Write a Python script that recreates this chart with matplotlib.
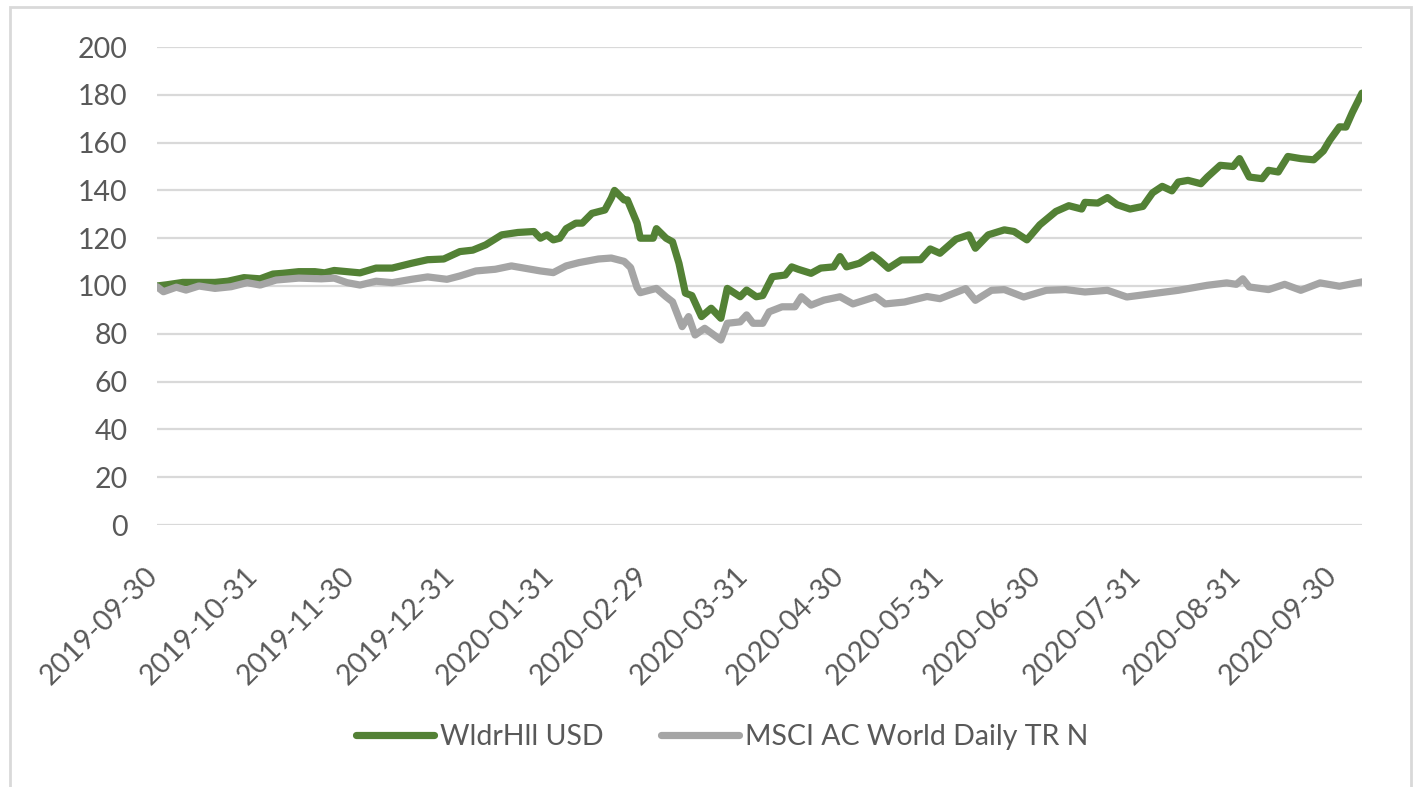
import pandas as pd
import matplotlib
matplotlib.use("Agg")
import matplotlib.pyplot as plt
from matplotlib.patches import Rectangle
from matplotlib.transforms import ScaledTranslation

plt.rcParams['font.family'] = ['Lato', 'DejaVu Sans']

# WldrHll USD
green_dates = ['2019-09-30', '2019-10-03', '2019-10-08', '2019-10-13', '2019-10-18', '2019-10-22',
               '2019-10-27', '2019-11-01', '2019-11-05', '2019-11-08', '2019-11-13', '2019-11-18',
               '2019-11-21', '2019-11-24', '2019-11-28', '2019-12-02', '2019-12-07', '2019-12-12',
               '2019-12-18', '2019-12-23', '2019-12-28', '2020-01-02', '2020-01-06', '2020-01-10',
               '2020-01-15', '2020-01-20', '2020-01-25', '2020-01-27', '2020-01-29', '2020-01-31',
               '2020-02-02', '2020-02-04', '2020-02-07', '2020-02-09', '2020-02-12', '2020-02-16',
               '2020-02-18', '2020-02-19', '2020-02-22', '2020-02-23', '2020-02-26', '2020-02-27',
               '2020-03-02', '2020-03-03', '2020-03-06', '2020-03-08', '2020-03-10', '2020-03-12',
               '2020-03-14', '2020-03-17', '2020-03-20', '2020-03-23', '2020-03-25', '2020-03-29',
               '2020-03-31', '2020-04-03', '2020-04-05', '2020-04-08', '2020-04-12', '2020-04-14',
               '2020-04-16', '2020-04-20', '2020-04-23', '2020-04-27', '2020-04-29', '2020-05-01',
               '2020-05-05', '2020-05-09', '2020-05-11', '2020-05-14', '2020-05-18', '2020-05-24',
               '2020-05-27', '2020-05-30', '2020-06-04', '2020-06-08', '2020-06-10', '2020-06-14',
               '2020-06-19', '2020-06-22', '2020-06-26', '2020-06-30', '2020-07-05', '2020-07-09',
               '2020-07-13', '2020-07-14', '2020-07-18', '2020-07-21', '2020-07-24', '2020-07-28',
               '2020-08-01', '2020-08-04', '2020-08-07', '2020-08-10', '2020-08-12', '2020-08-15',
               '2020-08-19', '2020-08-21', '2020-08-25', '2020-08-29', '2020-08-31', '2020-09-03',
               '2020-09-07', '2020-09-09', '2020-09-12', '2020-09-15', '2020-09-19', '2020-09-23',
               '2020-09-26', '2020-09-28', '2020-10-01', '2020-10-03', '2020-10-05', '2020-10-08']
green_vals = [100, 100.5, 101.5, 101.5, 101.5, 102,
              103.5, 103, 105, 105.3, 106, 106,
              105.5, 106.5, 106, 105.5, 107.5, 107.5,
              109.5, 111, 111.3, 114.4, 115, 117.2,
              121.4, 122.4, 122.8, 120, 121.4, 119.3,
              120, 124, 126.3, 126.3, 130.4, 131.8,
              136.8, 140, 136, 136, 126.3, 120,
              120, 124, 120, 118.5, 109.5, 97,
              96, 87.2, 90.7, 86.5, 99, 95.5,
              98.3, 95.5, 96, 103.9, 104.6, 108,
              107, 105.3, 107.5, 108, 112.3, 108,
              109.5, 113, 111, 107.4, 110.9, 111,
              115.5, 113.7, 119.6, 121.4, 115.8, 121.4,
              123.5, 122.8, 119.3, 125.6, 131.2, 133.6,
              132.2, 135, 134.7, 137, 134, 132.2,
              133.3, 139, 141.7, 139.8, 143.5, 144.2,
              142.8, 145.6, 150.5, 150, 153.3, 145.6,
              144.9, 148.4, 147.7, 154.2, 153.3, 152.8,
              156.5, 161, 166.6, 166.5, 172.6, 180.7]

# MSCI AC World Daily TR N
gray_dates = ['2019-09-30', '2019-10-02', '2019-10-06', '2019-10-09', '2019-10-13', '2019-10-18',
              '2019-10-23', '2019-10-28', '2019-11-01', '2019-11-06', '2019-11-13', '2019-11-20',
              '2019-11-24', '2019-11-28', '2019-12-02', '2019-12-07', '2019-12-12', '2019-12-18',
              '2019-12-23', '2019-12-29', '2020-01-02', '2020-01-07', '2020-01-13', '2020-01-18',
              '2020-01-21', '2020-01-27', '2020-01-31', '2020-02-04', '2020-02-08', '2020-02-14',
              '2020-02-18', '2020-02-22', '2020-02-24', '2020-02-26', '2020-02-27', '2020-03-03',
              '2020-03-06', '2020-03-08', '2020-03-11', '2020-03-13', '2020-03-15', '2020-03-18',
              '2020-03-23', '2020-03-25', '2020-03-29', '2020-03-31', '2020-04-02', '2020-04-05',
              '2020-04-07', '2020-04-11', '2020-04-15', '2020-04-17', '2020-04-20', '2020-04-24',
              '2020-04-29', '2020-05-03', '2020-05-10', '2020-05-13', '2020-05-19', '2020-05-26',
              '2020-05-30', '2020-06-07', '2020-06-10', '2020-06-15', '2020-06-19', '2020-06-25',
              '2020-07-02', '2020-07-08', '2020-07-14', '2020-07-21', '2020-07-27', '2020-08-04',
              '2020-08-12', '2020-08-21', '2020-08-27', '2020-08-30', '2020-09-01', '2020-09-03',
              '2020-09-09', '2020-09-14', '2020-09-19', '2020-09-25', '2020-10-01', '2020-10-08']
gray_vals = [99.7, 97.6, 99.5, 98.3, 100, 99,
             99.7, 101.4, 100.4, 102.5, 103.3, 103,
             103.3, 101.4, 100.4, 102, 101.4, 102.8,
             103.8, 102.8, 104.2, 106.3, 107, 108.4,
             107.7, 106.3, 105.6, 108.4, 109.8, 111.3,
             111.7, 110.3, 107.7, 99.3, 97.2, 99,
             95.5, 93.4, 83, 87.2, 79.5, 82.3,
             77.4, 84.4, 85, 87.9, 84.4, 84.4,
             89.2, 91.3, 91.3, 95.5, 92, 94.1,
             95.5, 92.5, 95.5, 92.5, 93.3, 95.6,
             94.7, 98.9, 94, 98.2, 98.5, 95.4,
             98.2, 98.5, 97.5, 98.2, 95.4, 96.8,
             98.2, 100.3, 101.3, 100.7, 103, 99.6,
             98.5, 100.7, 98.2, 101.3, 99.9, 101.7]

tick_dates = ['2019-09-30', '2019-10-31', '2019-11-30', '2019-12-31', '2020-01-31', '2020-02-29',
              '2020-03-31', '2020-04-30', '2020-05-31', '2020-06-30', '2020-07-31', '2020-08-31',
              '2020-09-30']
y_ticks = [0, 20, 40, 60, 80, 100, 120, 140, 160, 180, 200]

text_col = '#595959'
grid_col = '#d9d9d9'

fig = plt.figure(figsize=(14.18, 7.87), dpi=100)
W, H = 1418, 787

# chart-area frame
fig.patches.append(Rectangle((10 / W, -0.05), 1401 / W, 1.05 - 7 / H, transform=fig.transFigure,
                             fill=False, edgecolor=grid_col, linewidth=2))

ax = fig.add_axes([157 / W, 1 - 525 / H, 1205 / W, 478 / H])
ax.plot(pd.to_datetime(green_dates), green_vals, color='#538135', lw=5.2,
        solid_joinstyle='round', solid_capstyle='round', label='WldrHll USD', zorder=3)
ax.plot(pd.to_datetime(gray_dates), gray_vals, color='#a5a5a5', lw=5.2,
        solid_joinstyle='round', solid_capstyle='round', label='MSCI AC World Daily TR N', zorder=4)

ax.set_xlim(pd.Timestamp(green_dates[0]), pd.Timestamp(green_dates[-1]))
ax.set_ylim(0, 200)
ax.set_yticks(y_ticks)
ax.set_xticks(pd.to_datetime(tick_dates))
ax.set_xticklabels(tick_dates)
ax.grid(axis='y', color=grid_col, lw=1.6)
ax.set_axisbelow(True)
for s in ax.spines.values():
    s.set_visible(False)
ax.tick_params(axis='both', length=0, labelsize=20.5, labelcolor=text_col)
ax.tick_params(axis='y', pad=21)
ax.tick_params(axis='x', pad=27)
offset = ScaledTranslation(6 / 100, 0, fig.dpi_scale_trans)
for lab in ax.get_xticklabels():
    lab.set_rotation(45)
    lab.set_ha('right')
    lab.set_va('top')
    lab.set_transform(lab.get_transform() + offset)

leg = fig.legend(loc='center', bbox_to_anchor=(722 / W, 1 - 737 / H), ncol=2, frameon=False,
                 fontsize=20.5, handlelength=2.75, handletextpad=0.2, columnspacing=2.0)
for t in leg.get_texts():
    t.set_color(text_col)

fig.savefig('out.png', dpi=100)
